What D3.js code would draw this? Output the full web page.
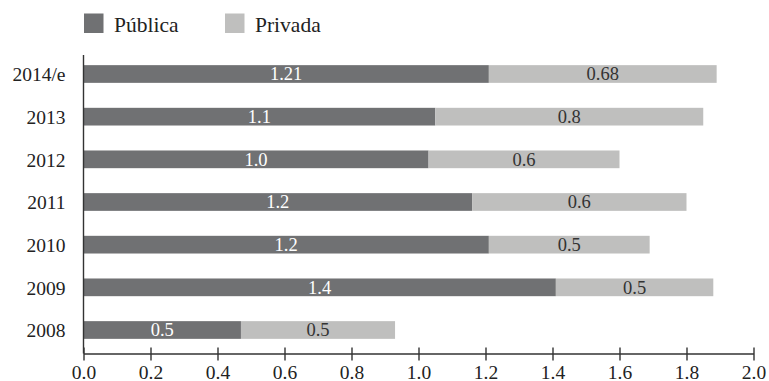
<!DOCTYPE html>
<html>
<head>
<meta charset="utf-8">
<script src="https://cdn.jsdelivr.net/npm/d3@7"></script>
<style>
  html, body { margin: 0; padding: 0; background: #fff; }
  svg { display: block; font-family: "Liberation Serif", "DejaVu Serif", serif; }
</style>
</head>
<body>
<svg id="chart" width="769" height="381"></svg>
<script>
// Inversión en I+D por origen de los fondos (% del PIB)
const categories = ["2014/e", "2013", "2012", "2011", "2010", "2009", "2008"];
const publica = [1.21, 1.05, 1.03, 1.16, 1.21, 1.41, 0.47];
const privada = [0.68, 0.80, 0.57, 0.64, 0.48, 0.47, 0.46];
const labelDigits = [2, 1, 1, 1, 1, 1, 1];
const xTicks = [0, 0.2, 0.4, 0.6, 0.8, 1.0, 1.2, 1.4, 1.6, 1.8, 2.0];
const seriesNames = ["Pública", "Privada"];

const colors = { "Pública": "#707173", "Privada": "#bfbfbe" };
const labelColors = { "Pública": "#ffffff", "Privada": "#333333" };

const svg = d3.select("#chart");
const axisY = 353.5;

const x = d3.scaleLinear().domain([0, 2]).range([83.5, 753.5]);
const y = d3.scalePoint().domain(categories).range([74, 330]);
const barH = 17.7;

const rows = categories.map((c, i) => ({
  cat: c, digits: labelDigits[i],
  segs: [
    { name: "Pública", x0: 0, x1: publica[i], v: publica[i] },
    { name: "Privada", x0: publica[i], x1: publica[i] + privada[i], v: privada[i] }
  ]
}));

// stacked bars
const g = svg.append("g");
const row = g.selectAll("g.row").data(rows).join("g").attr("class", "row");
row.selectAll("rect").data(d => d.segs).join("rect")
  .attr("x", d => x(d.x0))
  .attr("width", d => x(d.x1) - x(d.x0))
  .attr("y", function () { return y(d3.select(this.parentNode).datum().cat) - barH / 2; })
  .attr("height", barH)
  .attr("fill", d => colors[d.name]);

row.selectAll("text").data(d => d.segs.map(s => ({ ...s, cat: d.cat, digits: d.digits }))).join("text")
  .attr("x", d => (x(d.x0) + x(d.x1)) / 2)
  .attr("y", d => y(d.cat))
  .attr("dy", "0.35em")
  .attr("text-anchor", "middle")
  .attr("font-size", 18.5)
  .attr("fill", d => labelColors[d.name])
  .text(d => d.v.toFixed(d.digits));

// x axis
const xAxis = svg.append("g")
  .attr("transform", `translate(0,${axisY})`)
  .call(d3.axisBottom(x).tickValues(xTicks).tickFormat(d3.format(".1f")).tickSize(6).tickSizeOuter(0));
xAxis.select(".domain").attr("stroke", "#333").attr("stroke-width", 1.4);
xAxis.selectAll(".tick line").attr("y1", -6).attr("y2", 7).attr("stroke", "#333").attr("stroke-width", 1.4);
xAxis.selectAll(".tick text")
  .attr("y", 25).attr("dy", 0)
  .attr("font-size", 19.5)
  .attr("font-family", "Liberation Serif, DejaVu Serif, serif")
  .attr("fill", "#222");

// y axis
const yAxis = svg.append("g")
  .attr("transform", `translate(${x(0)},0)`)
  .call(d3.axisLeft(y).tickSize(0).tickPadding(18));
yAxis.select(".domain").remove();
yAxis.selectAll(".tick text")
  .attr("dy", "0.35em")
  .attr("font-size", 19.5)
  .attr("font-family", "Liberation Serif, DejaVu Serif, serif")
  .attr("fill", "#222");
svg.append("line")
  .attr("x1", x(0)).attr("x2", x(0))
  .attr("y1", 55).attr("y2", axisY)
  .attr("stroke", "#333").attr("stroke-width", 1.4);

// legend
const legend = svg.append("g");
const legX = [84, 225];
seriesNames.forEach((n, i) => {
  legend.append("rect")
    .attr("x", legX[i]).attr("y", 13.5)
    .attr("width", 19.5).attr("height", 19.5)
    .attr("fill", colors[n]);
  legend.append("text")
    .attr("x", legX[i] + 30).attr("y", 31.5)
    .attr("font-size", 21.5)
    .attr("fill", "#222")
    .text(n);
});
</script>
</body>
</html>
